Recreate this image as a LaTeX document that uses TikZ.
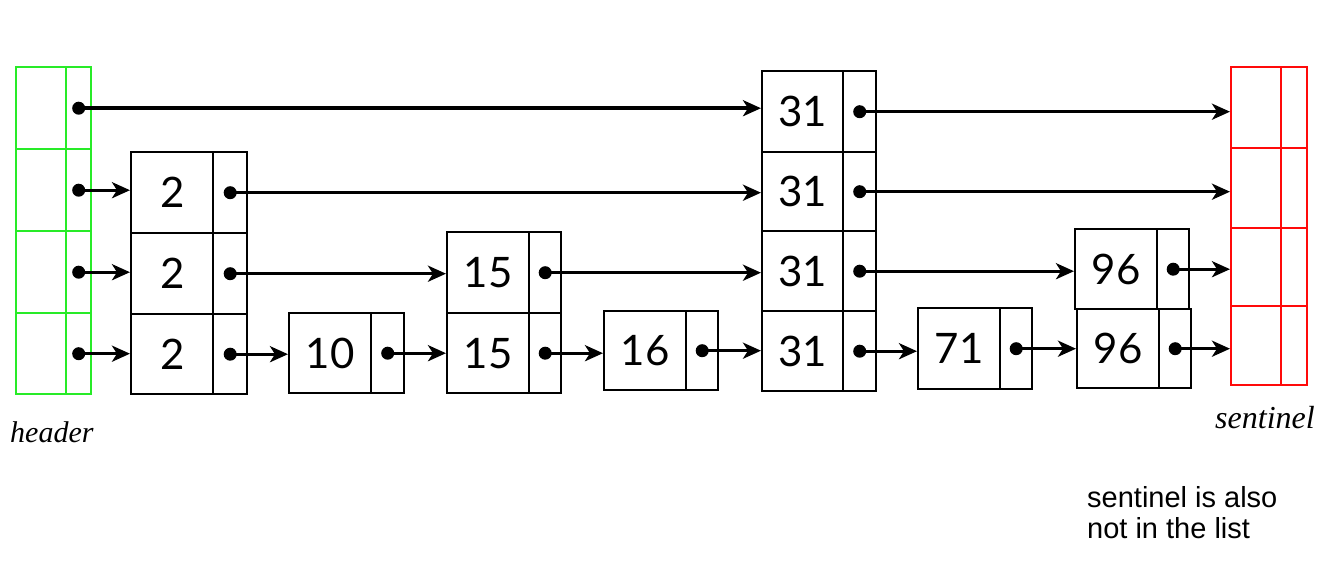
\documentclass[tikz,border=0pt]{standalone}
\usepackage{fontspec}
\usetikzlibrary{arrows.meta}
\newfontfamily\numfont{Lato}
\newfontfamily\notefont{Liberation Sans}
\newfontfamily\lblfont{Liberation Serif}
\definecolor{hgreen}{RGB}{40,235,40}
\definecolor{sred}{RGB}{255,10,10}
\newcommand\skcell[8]{%
  \pgfmathsetmacro\skw{#3-#2}\pgfmathsetmacro\skwp{#4-#3}\pgfmathsetmacro\skh{#6-#5}%
  \node[#8, minimum width=\skw pt, minimum height=\skh pt, anchor=north west] (#1v) at (#2,#5) {#7};%
  \node[#8, minimum width=\skwp pt, minimum height=\skh pt, anchor=north west] (#1p) at (#3,#5) {};%
}
\tikzset{
  box/.style={draw=black, line width=2.4pt, inner sep=0pt, font=\numfont\fontsize{42}{44}\selectfont},
  hbox/.style={draw=hgreen, line width=2.4pt, inner sep=0pt},
  sbox/.style={draw=sred, line width=2.4pt, inner sep=0pt},
  ptr/.style={line width=3.4pt, -{Stealth[length=18pt,width=16pt,inset=5pt]}},
  dot/.style={fill=black},
  lbl/.style={font=\lblfont\itshape, inner sep=0pt},
  note/.style={font=\notefont\fontsize{29}{30}\selectfont, inner sep=0pt}
}
\begin{document}
\begin{tikzpicture}[x=1pt,y=-1pt]
\useasboundingbox (0,0) rectangle (1337,575);
% header
\skcell{hA}{15}{65}{90}{66}{148}{}{hbox}
\skcell{hB}{15}{65}{90}{148}{230}{}{hbox}
\skcell{hC}{15}{65}{90}{230}{312}{}{hbox}
\skcell{hD}{15}{65}{90}{312}{393}{}{hbox}
% sentinel
\skcell{sA}{1230}{1280}{1306}{66}{147}{}{sbox}
\skcell{sB}{1230}{1280}{1306}{147}{227}{}{sbox}
\skcell{sC}{1230}{1280}{1306}{227}{305}{}{sbox}
\skcell{sD}{1230}{1280}{1306}{305}{384}{}{sbox}
% node 2
\skcell{aB}{130}{212}{246}{151}{232}{2}{box}
\skcell{aC}{130}{212}{246}{232}{313}{2}{box}
\skcell{aD}{130}{212}{246}{313}{393}{2}{box}
% node 10
\skcell{bD}{288}{370}{403}{312}{392}{10}{box}
% node 15
\skcell{cC}{446}{528}{560}{231}{312}{15}{box}
\skcell{cD}{446}{528}{560}{312}{392}{15}{box}
% node 16
\skcell{dD}{603}{685}{717}{310}{389}{16}{box}
% node 31
\skcell{eA}{761}{842}{875}{70}{151}{31}{box}
\skcell{eB}{761}{842}{875}{151}{230}{31}{box}
\skcell{eC}{761}{842}{875}{230}{310}{31}{box}
\skcell{eD}{761}{842}{875}{310}{390}{31}{box}
% node 71
\skcell{fD}{917}{999}{1031}{307}{388}{71}{box}
% node 96
\skcell{gC}{1074}{1156}{1188}{228}{308}{96}{box}
\skcell{gD}{1076}{1158}{1190}{308}{387}{96}{box}
% dots
\foreach \p in {hA,hB,hC,hD,aB,aC,aD,bD,cC,cD,dD,eA,eB,eC,eD,fD,gC,gD}
  \fill[dot] (\p p.center) circle (6.5pt);
% level A
\draw[ptr] (hAp.center) -- (hAp.center -| eAv.west);
\draw[ptr] (eAp.center) -- (eAp.center -| sAv.west);
% level B
\draw[ptr] (hBp.center) -- (hBp.center -| aBv.west);
\draw[ptr] (aBp.center) -- (aBp.center -| eBv.west);
\draw[ptr] (eBp.center) -- (eBp.center -| sBv.west);
% level C
\draw[ptr] (hCp.center) -- (hCp.center -| aCv.west);
\draw[ptr] (aCp.center) -- (aCp.center -| cCv.west);
\draw[ptr] (cCp.center) -- (cCp.center -| eCv.west);
\draw[ptr] (eCp.center) -- (eCp.center -| gCv.west);
\draw[ptr] (gCp.center) -- (gCp.center -| sCv.west);
% level D
\draw[ptr] (hDp.center) -- (hDp.center -| aDv.west);
\draw[ptr] (aDp.center) -- (aDp.center -| bDv.west);
\draw[ptr] (bDp.center) -- (bDp.center -| cDv.west);
\draw[ptr] (cDp.center) -- (cDp.center -| dDv.west);
\draw[ptr] (dDp.center) -- (dDp.center -| eDv.west);
\draw[ptr] (eDp.center) -- (eDp.center -| fDv.west);
\draw[ptr] (fDp.center) -- (fDp.center -| gDv.west);
\draw[ptr] (gDp.center) -- (gDp.center -| sDv.west);
% labels
\node[lbl, font=\lblfont\itshape\fontsize{30}{32}\selectfont, anchor=base west] (hlbl) at (10,442) {header};
\node[lbl, font=\lblfont\itshape\fontsize{32}{34}\selectfont, anchor=base west] (slbl) at (1215,428) {sentinel};
\node[note, anchor=base west] (n1) at (1087,507) {sentinel is also};
\node[note, anchor=base west] (n2) at (1087,538) {not in the list};
\end{tikzpicture}
\end{document}
